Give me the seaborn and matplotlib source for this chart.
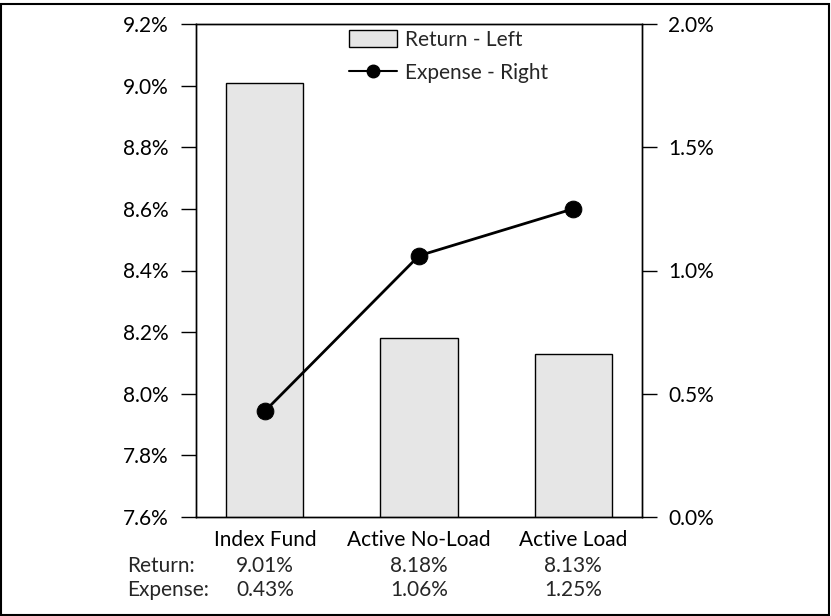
import numpy as np
import matplotlib
matplotlib.use("Agg")
import matplotlib.pyplot as plt
import matplotlib.transforms as mtransforms
from matplotlib.patches import Patch, Rectangle
from matplotlib.lines import Line2D
from matplotlib.ticker import FuncFormatter, MultipleLocator
import seaborn as sns

# Data
categories = ["Index Fund", "Active No-Load", "Active Load"]
returns = [9.01, 8.18, 8.13]     # % (left axis)
expenses = [0.43, 1.06, 1.25]    # % (right axis)

sns.set_theme(style="white")
plt.rcParams["font.family"] = ["Lato", "DejaVu Sans"]
FS = 15

fig = plt.figure(figsize=(8.31, 6.16), dpi=100)
ax = fig.add_axes([196 / 831, 1 - 517 / 616, (642 - 196) / 831, (517 - 24) / 616])

# bars - return on left axis
sns.barplot(x=categories, y=returns, color="#e6e6e6", edgecolor="black",
            linewidth=1, width=0.5, saturation=1, ax=ax)
ax.set_ylim(7.6, 9.2)
ax.yaxis.set_major_locator(MultipleLocator(0.2))
ax.yaxis.set_major_formatter(FuncFormatter(lambda v, p: f"{v:.1f}%"))
ax.tick_params(axis="y", left=True, length=11, width=1, color="black",
               pad=8.5, labelsize=FS, labelcolor="black")
ax.tick_params(axis="x", bottom=False, length=0, pad=9, labelsize=FS,
               labelcolor="black")
ax.set_xlabel("")
ax.set_ylabel("")

# line - expense on right axis
ax2 = ax.twinx()
sns.lineplot(x=np.arange(len(categories)), y=expenses, color="black",
             linewidth=2, marker="o", markersize=12, markeredgecolor="black",
             ax=ax2)
ax2.set_ylim(0, 2.0)
ax2.yaxis.set_major_locator(MultipleLocator(0.5))
ax2.yaxis.set_major_formatter(FuncFormatter(lambda v, p: f"{v:.1f}%"))
ax2.tick_params(axis="y", right=True, left=False, length=11, width=1,
                color="black", pad=8, labelsize=FS, labelcolor="black")
ax2.set_ylabel("")
ax.set_xlim(-0.448, 2.448)

for a in (ax, ax2):
    for s in a.spines.values():
        s.set_color("black")
        s.set_linewidth(1)

# legend
handles = [Patch(facecolor="#e6e6e6", edgecolor="black", linewidth=1),
           Line2D([], [], color="black", linewidth=1.5, marker="o", markersize=9)]
fig.legend(handles, ["Return - Left", "Expense - Right"], loc="upper left",
           bbox_to_anchor=(349 / 831, 1 - 30 / 616), frameon=False,
           fontsize=FS, handlelength=2.3, handleheight=0.9, handletextpad=0.4,
           labelspacing=0.62, borderpad=0, borderaxespad=0)

# table below the chart
trans = mtransforms.blended_transform_factory(ax.transData, fig.transFigure)
y_ret = 1 - 566 / 616
y_exp = 1 - 590 / 616
fig.text(127 / 831, y_ret, "Return:", ha="left", va="center", fontsize=FS)
fig.text(127 / 831, y_exp, "Expense:", ha="left", va="center", fontsize=FS)
for i, (r, e) in enumerate(zip(returns, expenses)):
    ax.text(i, y_ret, f"{r:.2f}%", transform=trans, ha="center", va="center", fontsize=FS)
    ax.text(i, y_exp, f"{e:.2f}%", transform=trans, ha="center", va="center", fontsize=FS)

# outer border
fig.patches.append(Rectangle((1 / 831, 1 / 616), 828 / 831, 611 / 616,
                             transform=fig.transFigure, fill=False,
                             edgecolor="black", linewidth=1.5))

fig.savefig("out.png", dpi=100)
